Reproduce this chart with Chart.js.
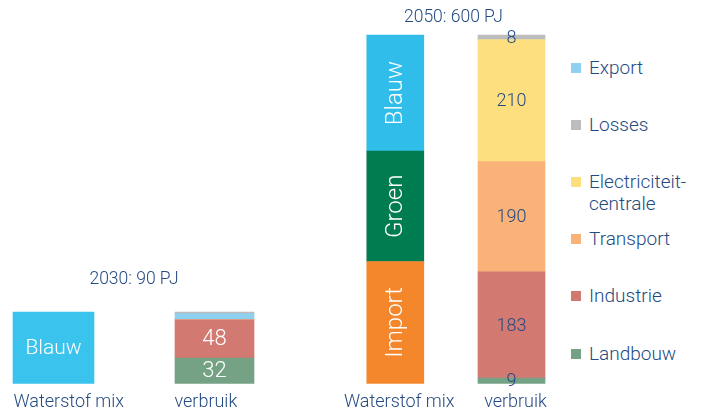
<!DOCTYPE html>
<html lang="nl">
<head>
<meta charset="utf-8">
<script src="https://cdn.jsdelivr.net/npm/chart.js@4.4.1/dist/chart.umd.min.js"></script>
<style>
  html, body { margin: 0; padding: 0; background: #fff; }
  body { width: 706px; height: 417px; position: relative; overflow: hidden; font-family: 'Roboto', sans-serif; }
  .paneel { position: absolute; }
  #paneel2030 { left: 0; top: 265px; width: 300px; height: 156px; }
  #paneel2050 { left: 300px; top: 0; width: 260px; height: 421px; }
  #legenda { position: absolute; left: 571px; top: 0; }
  .item { position: absolute; left: 0; white-space: pre-line; font-size: 19px; font-weight: 300; line-height: 22px; color: #244a82; padding-left: 18px; width: 140px; }
  .item .blok { position: absolute; left: 0; top: 6px; width: 10px; height: 10px; }
</style>
</head>
<body>
<div class="paneel" id="paneel2030"><canvas id="chart2030"></canvas></div>
<div class="paneel" id="paneel2050"><canvas id="chart2050"></canvas></div>
<div id="legenda"></div>

<script>
// Categorieën (x-as) per paneel
const categorieen = ['Waterstof mix', 'verbruik'];

// Herkomst van waterstof (PJ)
const mix2030 = { Blauw: 90 };
const mixNamen = ['Import', 'Groen', 'Blauw'];            // van onder naar boven
const mix2050 = [210, 190, 200];
const mixKleuren = ['#f4872b', '#007d50', '#31bde9'];

// Verbruik (PJ), van onder naar boven gestapeld
const verbruikNamen = ['Landbouw', 'Industrie', 'Transport', 'Electriciteitcentrale', 'Export', 'Losses'];
const verbruik2030 = [32, 48, 0, 0, 8, 2];
const verbruik2050 = [9, 183, 190, 210, 0, 8];
const verbruikKleuren = ['#75a284', '#d27a72', '#f9b277', '#fedf7f', '#8fd0f1', '#bcbcbc'];

// Legenda (van boven naar beneden)
const legendaNamen = ['Export', 'Losses', 'Electriciteit-\ncentrale', 'Transport', 'Industrie', 'Landbouw'];
const legendaKleuren = ['#8fd0f1', '#bcbcbc', '#fedf7f', '#f9b277', '#d27a72', '#75a284'];

const tekstKleur = '#244a82';
Chart.defaults.font.family = "'Roboto', sans-serif";
Chart.defaults.color = tekstKleur;

// Labels in de balken tekenen (namen wit, waarden per paneel)
const balkLabels = {
    id: 'balkLabels',
    afterDatasetsDraw(chart, args, opts) {
        const ctx = chart.ctx;
        chart.data.datasets.forEach((ds, i) => {
            const meta = chart.getDatasetMeta(i);
            meta.data.forEach((bar, j) => {
                const v = ds.data[j];
                if (!v || v < opts.minWaarde) return;
                const { x, y, base } = bar.getProps(['x', 'y', 'base'], true);
                const tekst = ds.toonNaam ? ds.label : String(v);
                ctx.save();
                ctx.translate(x, (y + base) / 2);
                if (ds.toonNaam && opts.draaiNamen) ctx.rotate(-Math.PI / 2);
                ctx.font = ds.toonNaam ? opts.naamFont : opts.waardeFont;
                ctx.fillStyle = ds.toonNaam ? '#ffffff' : opts.waardeKleur;
                ctx.textAlign = 'center';
                ctx.textBaseline = 'middle';
                ctx.fillText(tekst, 0, 1);
                ctx.restore();
            });
        });
    }
};

function maakDatasets(namen, waarden, kleuren, index, dikte, toonNaam) {
    return namen.map((naam, k) => ({
        label: naam,
        data: index === 0 ? [waarden[k], null] : [null, waarden[k]],
        backgroundColor: kleuren[k],
        borderWidth: 0,
        barThickness: dikte,
        clip: false,
        toonNaam: toonNaam
    }));
}

function maakGrafiek(id, datasets, titel, maxY, padding, titelPadding, labelOpties, tickUitlijning) {
    return new Chart(document.getElementById(id), {
        type: 'bar',
        data: { labels: categorieen, datasets: datasets },
        plugins: [balkLabels],
        options: {
            responsive: true,
            maintainAspectRatio: false,
            animation: false,
            layout: { padding: padding },
            plugins: {
                legend: { display: false },
                tooltip: { enabled: false },
                title: {
                    display: true,
                    text: titel,
                    fullSize: false,
                    color: tekstKleur,
                    font: { size: 17.5, weight: '300' },
                    padding: titelPadding
                },
                balkLabels: labelOpties
            },
            scales: {
                x: {
                    stacked: true,
                    offset: false,
                    grid: { display: false, drawTicks: false },
                    border: { display: false },
                    ticks: Object.assign({ color: tekstKleur, font: { size: 18, weight: '300' }, padding: 8, maxRotation: 0, autoSkip: false }, tickUitlijning),
                    afterFit: (as) => { as.paddingLeft = 0; as.paddingRight = 0; }
                },
                y: {
                    stacked: true,
                    display: false,
                    min: 0,
                    max: maxY
                }
            }
        }
    });
}

// 2030: 90 PJ
const sets2030 = maakDatasets(Object.keys(mix2030), Object.values(mix2030), ['#3ac3ec'], 0, 81, true)
    .concat(maakDatasets(verbruikNamen, verbruik2030, verbruikKleuren, 1, 79, false));
maakGrafiek('chart2030', sets2030, '2030: 90 PJ', 90,
    { left: 53.5, right: 85.5, top: 0, bottom: 0 }, { top: 4, bottom: 22 },
    { minWaarde: 20, draaiNamen: false, naamFont: "300 21px Roboto", waardeFont: "300 22px Roboto", waardeKleur: '#ffffff' },
    { align: 'start', labelOffset: -40 });

// 2050: 600 PJ
const sets2050 = maakDatasets(mixNamen, mix2050, mixKleuren, 0, 57, true)
    .concat(maakDatasets(verbruikNamen, verbruik2050, verbruikKleuren, 1, 67, false));
maakGrafiek('chart2050', sets2050, '2050: 600 PJ', 600,
    { left: 95.3, right: 48.5, top: 0, bottom: 0 }, { top: 7, bottom: 7 },
    { minWaarde: 0, draaiNamen: true, naamFont: "300 24px Roboto", waardeFont: "300 18px Roboto", waardeKleur: tekstKleur },
    { labelOffset: 4 });

// Legenda
const legenda = document.getElementById('legenda');
legendaNamen.forEach((naam, i) => {
    const item = document.createElement('div');
    item.className = 'item';
    item.style.top = (57 + i * 57.1) + 'px';
    item.innerHTML = '<span class="blok" style="background:' + legendaKleuren[i] + '"></span>';
    item.appendChild(document.createTextNode(naam));
    legenda.appendChild(item);
});
</script>
</body>
</html>
